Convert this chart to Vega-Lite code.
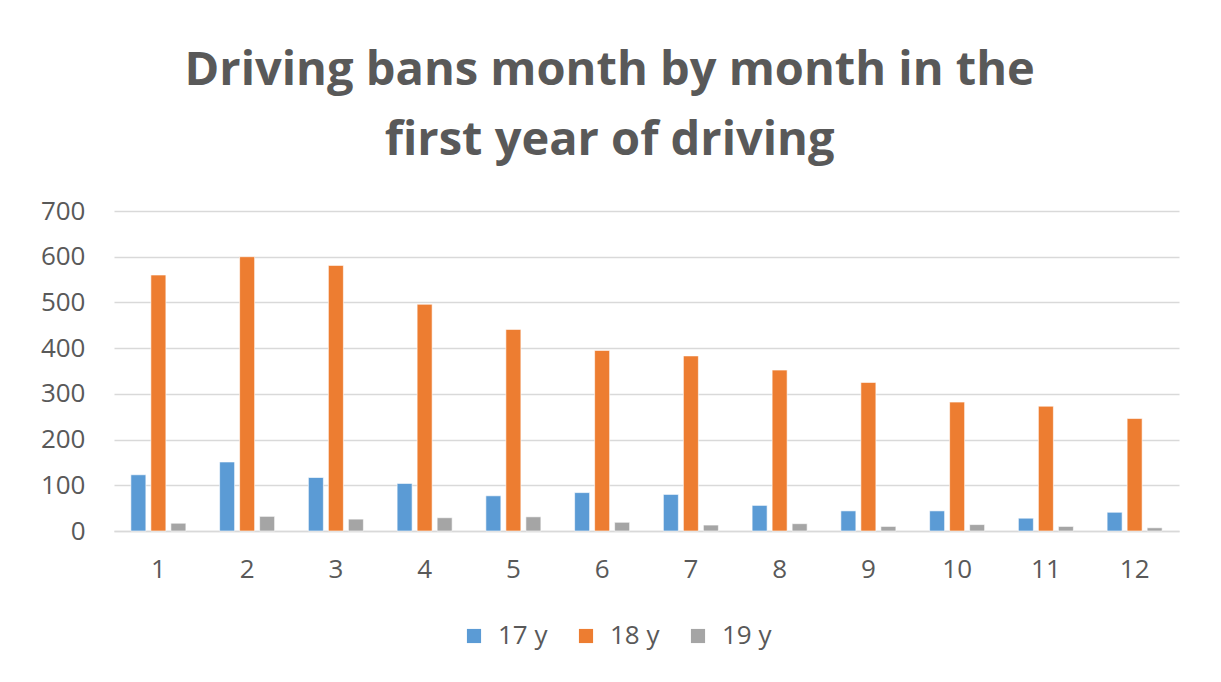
{
  "$schema": "https://vega.github.io/schema/vega-lite/v6.json",
  "autosize": "none",
  "width": 1065,
  "height": 320,
  "padding": {"left": 114, "top": 211, "right": 42, "bottom": 151},
  "background": "#ffffff",
  "title": {
    "text": ["Driving bans month by month in the", "first year of driving"],
    "font": "Open Sans",
    "fontWeight": "bold",
    "fontSize": 47,
    "color": "#595959",
    "anchor": "middle",
    "frame": "bounds",
    "lineHeight": 70,
    "offset": 33
  },
  "data": {
    "values": [
      {"month": 1, "age": "17 y", "bans": 123},
      {"month": 1, "age": "18 y", "bans": 560},
      {"month": 1, "age": "19 y", "bans": 17},
      {"month": 2, "age": "17 y", "bans": 151},
      {"month": 2, "age": "18 y", "bans": 600},
      {"month": 2, "age": "19 y", "bans": 32},
      {"month": 3, "age": "17 y", "bans": 117},
      {"month": 3, "age": "18 y", "bans": 581},
      {"month": 3, "age": "19 y", "bans": 26},
      {"month": 4, "age": "17 y", "bans": 104},
      {"month": 4, "age": "18 y", "bans": 496},
      {"month": 4, "age": "19 y", "bans": 29},
      {"month": 5, "age": "17 y", "bans": 77},
      {"month": 5, "age": "18 y", "bans": 441},
      {"month": 5, "age": "19 y", "bans": 31},
      {"month": 6, "age": "17 y", "bans": 84},
      {"month": 6, "age": "18 y", "bans": 395},
      {"month": 6, "age": "19 y", "bans": 19},
      {"month": 7, "age": "17 y", "bans": 80},
      {"month": 7, "age": "18 y", "bans": 383},
      {"month": 7, "age": "19 y", "bans": 13},
      {"month": 8, "age": "17 y", "bans": 56},
      {"month": 8, "age": "18 y", "bans": 352},
      {"month": 8, "age": "19 y", "bans": 16},
      {"month": 9, "age": "17 y", "bans": 44},
      {"month": 9, "age": "18 y", "bans": 325},
      {"month": 9, "age": "19 y", "bans": 10},
      {"month": 10, "age": "17 y", "bans": 44},
      {"month": 10, "age": "18 y", "bans": 282},
      {"month": 10, "age": "19 y", "bans": 14},
      {"month": 11, "age": "17 y", "bans": 28},
      {"month": 11, "age": "18 y", "bans": 273},
      {"month": 11, "age": "19 y", "bans": 10},
      {"month": 12, "age": "17 y", "bans": 41},
      {"month": 12, "age": "18 y", "bans": 246},
      {"month": 12, "age": "19 y", "bans": 7}
    ]
  },
  "mark": {"type": "bar", "stroke": "#ffffff", "strokeOpacity": 0.6, "strokeWidth": 1},
  "encoding": {
    "x": {
      "field": "month",
      "type": "ordinal",
      "title": null,
      "scale": {"paddingInner": 0.38, "paddingOuter": 0.19},
      "axis": {
        "labelAngle": 0,
        "labelFont": "Open Sans",
        "labelFontSize": 26,
        "labelColor": "#595959",
        "labelPadding": 25,
        "ticks": false,
        "domainColor": "#d9d9d9",
        "domainWidth": 1.5,
        "grid": false
      }
    },
    "xOffset": {
      "field": "age",
      "type": "nominal",
      "scale": {"paddingInner": 0.25, "paddingOuter": 0}
    },
    "y": {
      "field": "bans",
      "type": "quantitative",
      "title": null,
      "scale": {"domain": [0, 700], "nice": false},
      "axis": {
        "values": [0, 100, 200, 300, 400, 500, 600, 700],
        "labelFont": "Open Sans",
        "labelFontSize": 26,
        "labelColor": "#595959",
        "labelPadding": 29,
        "ticks": false,
        "domain": false,
        "gridColor": "#d9d9d9",
        "gridWidth": 1.5
      }
    },
    "color": {
      "field": "age",
      "type": "nominal",
      "title": null,
      "scale": {"domain": ["17 y", "18 y", "19 y"], "range": ["#5B9BD5", "#ED7D31", "#A5A5A5"]},
      "legend": {
        "orient": "none",
        "direction": "horizontal",
        "legendX": 347,
        "legendY": 412,
        "symbolType": "square",
        "symbolSize": 200,
        "symbolStrokeWidth": 0,
        "labelFont": "Open Sans",
        "labelFontSize": 26,
        "labelColor": "#595959",
        "columnPadding": 25,
        "labelOffset": 11
      }
    }
  },
  "config": {
    "view": {"stroke": null}
  }
}
